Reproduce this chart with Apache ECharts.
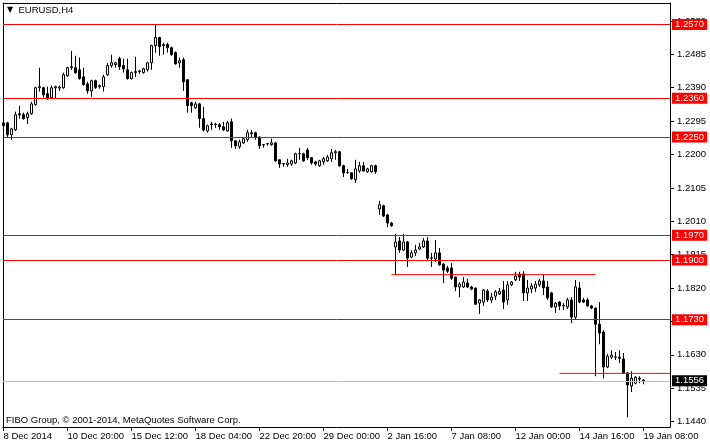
<!DOCTYPE html>
<html><head><meta charset="utf-8">
<script src="https://cdn.jsdelivr.net/npm/echarts@6/dist/echarts.min.js"></script>
<style>html,body{margin:0;padding:0;background:#fff}#c{width:710px;height:445px}</style>
</head><body><div id="c"></div>
<script>
// EURUSD H4 candles, one entry per bar (bar index = position in array)
const opens = [1.2290,1.2290,1.2256,1.2270,1.2316,1.2313,1.2305,1.2316,1.2342,1.2390,
1.2390,1.2373,1.2362,1.2390,1.2389,1.2390,1.2424,1.2447,1.2447,1.2441,
1.2421,1.2401,1.2381,1.2410,1.2393,1.2393,1.2427,1.2453,1.2456,1.2473,
1.2453,1.2441,1.2416,1.2433,1.2436,1.2433,1.2441,1.2461,1.2510,1.2533,
1.2510,1.2513,1.2504,1.2490,1.2461,1.2470,1.2413,1.2347,1.2333,1.2344,
1.2302,1.2267,1.2285,1.2285,1.2285,1.2279,1.2267,1.2293,1.2239,1.2222,
1.2233,1.2242,1.2259,1.2262,1.2250,1.2228,1.2230,1.2228,1.2233,1.2185,
1.2173,1.2171,1.2173,1.2176,1.2202,1.2202,1.2213,1.2191,1.2179,1.2168,
1.2179,1.2182,1.2188,1.2205,1.2208,1.2168,1.2148,1.2148,1.2128,1.2153,
1.2168,1.2151,1.2151,1.2168,1.2045,1.2054,1.2028,1.2005,1.1937,1.1954,
1.1928,1.1951,1.1908,1.1920,1.1931,1.1937,1.1954,1.1905,1.1903,1.1920,
1.1888,1.1877,1.1877,1.1851,1.1823,1.1823,1.1834,1.1823,1.1820,1.1777,
1.1780,1.1811,1.1786,1.1797,1.1803,1.1814,1.1786,1.1829,1.1843,1.1860,
1.1860,1.1806,1.1817,1.1820,1.1829,1.1840,1.1823,1.1806,1.1766,1.1780,
1.1769,1.1766,1.1786,1.1737,1.1820,1.1786,1.1786,1.1769,1.1763,1.1717,
1.1695,1.1595,1.1623,1.1623,1.1623,1.1618,1.1578,1.1541,1.1549,1.1563,
1.1558];
const closes = [1.2282,1.2256,1.2273,1.2313,1.2313,1.2302,1.2316,1.2344,1.2390,1.2393,
1.2370,1.2359,1.2390,1.2393,1.2392,1.2427,1.2447,1.2450,1.2433,1.2416,
1.2399,1.2381,1.2410,1.2390,1.2396,1.2421,1.2453,1.2461,1.2461,1.2450,
1.2444,1.2416,1.2433,1.2436,1.2438,1.2444,1.2461,1.2510,1.2533,1.2507,
1.2513,1.2504,1.2484,1.2458,1.2467,1.2407,1.2339,1.2339,1.2344,1.2302,
1.2270,1.2282,1.2287,1.2286,1.2279,1.2270,1.2290,1.2239,1.2225,1.2236,
1.2245,1.2262,1.2262,1.2250,1.2225,1.2227,1.2231,1.2233,1.2182,1.2173,
1.2174,1.2176,1.2182,1.2202,1.2203,1.2182,1.2191,1.2176,1.2173,1.2182,
1.2188,1.2193,1.2205,1.2208,1.2168,1.2148,1.2149,1.2131,1.2159,1.2168,
1.2153,1.2159,1.2168,1.2151,1.2057,1.2025,1.2005,1.1997,1.1951,1.1928,
1.1951,1.1905,1.1920,1.1928,1.1937,1.1954,1.1905,1.1906,1.1920,1.1886,
1.1871,1.1868,1.1848,1.1823,1.1831,1.1837,1.1823,1.1817,1.1774,1.1786,
1.1814,1.1786,1.1794,1.1809,1.1811,1.1780,1.1829,1.1837,1.1854,1.1851,
1.1806,1.1820,1.1826,1.1831,1.1840,1.1820,1.1792,1.1766,1.1777,1.1769,
1.1770,1.1786,1.1737,1.1823,1.1780,1.1780,1.1769,1.1763,1.1717,1.1692,
1.1595,1.1626,1.1629,1.1624,1.1620,1.1578,1.1544,1.1563,1.1566,1.1561,
1.1556];
const lows = [1.2276,1.2248,1.2242,1.2267,1.2302,1.2299,1.2287,1.2313,1.2339,1.2379,
1.2362,1.2356,1.2359,1.2359,1.2381,1.2387,1.2421,1.2441,1.2430,1.2413,
1.2396,1.2373,1.2364,1.2387,1.2387,1.2379,1.2424,1.2447,1.2447,1.2441,
1.2433,1.2413,1.2413,1.2421,1.2430,1.2430,1.2436,1.2441,1.2490,1.2481,
1.2484,1.2490,1.2481,1.2456,1.2447,1.2381,1.2319,1.2319,1.2330,1.2276,
1.2265,1.2262,1.2270,1.2276,1.2270,1.2267,1.2265,1.2219,1.2216,1.2216,
1.2230,1.2236,1.2248,1.2242,1.2216,1.2219,1.2225,1.2225,1.2179,1.2162,
1.2165,1.2165,1.2168,1.2173,1.2185,1.2179,1.2185,1.2171,1.2168,1.2165,
1.2171,1.2179,1.2179,1.2185,1.2165,1.2136,1.2145,1.2128,1.2119,1.2148,
1.2151,1.2148,1.2148,1.2145,1.2028,1.2022,1.1994,1.1994,1.1857,1.1920,
1.1925,1.1880,1.1905,1.1911,1.1928,1.1934,1.1900,1.1880,1.1894,1.1883,
1.1834,1.1863,1.1843,1.1811,1.1794,1.1820,1.1820,1.1814,1.1772,1.1746,
1.1769,1.1780,1.1777,1.1786,1.1800,1.1760,1.1772,1.1826,1.1840,1.1840,
1.1783,1.1783,1.1806,1.1809,1.1823,1.1800,1.1786,1.1763,1.1749,1.1757,
1.1757,1.1760,1.1720,1.1729,1.1777,1.1777,1.1766,1.1760,1.1569,1.1660,
1.1563,1.1592,1.1618,1.1615,1.1606,1.1575,1.1452,1.1524,1.1546,1.1549,
1.1546];
const highs = [1.2296,1.2293,1.2276,1.2322,1.2339,1.2319,1.2322,1.2350,1.2393,1.2447,
1.2393,1.2393,1.2396,1.2396,1.2396,1.2433,1.2450,1.2495,1.2481,1.2476,
1.2447,1.2407,1.2413,1.2413,1.2399,1.2427,1.2461,1.2484,1.2464,1.2478,
1.2473,1.2473,1.2436,1.2478,1.2441,1.2447,1.2464,1.2513,1.2570,1.2535,
1.2518,1.2518,1.2507,1.2493,1.2476,1.2476,1.2413,1.2350,1.2350,1.2347,
1.2336,1.2285,1.2293,1.2290,1.2290,1.2293,1.2296,1.2302,1.2240,1.2242,
1.2250,1.2270,1.2270,1.2265,1.2251,1.2230,1.2233,1.2245,1.2236,1.2186,
1.2176,1.2188,1.2185,1.2205,1.2219,1.2205,1.2219,1.2193,1.2182,1.2185,
1.2193,1.2199,1.2216,1.2213,1.2210,1.2171,1.2159,1.2149,1.2185,1.2179,
1.2179,1.2162,1.2171,1.2171,1.2068,1.2057,1.2031,1.2008,1.1974,1.1965,
1.1974,1.1954,1.1928,1.1943,1.1948,1.1962,1.1965,1.1920,1.1957,1.1934,
1.1891,1.1883,1.1891,1.1852,1.1837,1.1851,1.1846,1.1826,1.1821,1.1789,
1.1817,1.1817,1.1806,1.1814,1.1820,1.1840,1.1840,1.1840,1.1866,1.1866,
1.1868,1.1843,1.1834,1.1840,1.1846,1.1857,1.1840,1.1809,1.1780,1.1783,
1.1777,1.1792,1.1794,1.1843,1.1837,1.1792,1.1792,1.1772,1.1764,1.1780,
1.1700,1.1632,1.1643,1.1638,1.1643,1.1635,1.1581,1.1583,1.1569,1.1569,
1.1561];

// time axis labels (bar index where each label sits)
const tickBars = [0,16,32,48,64,80,96,112,128,144,160];
const tickLabels = ['8 Dec 2014','10 Dec 20:00','15 Dec 12:00','18 Dec 04:00','22 Dec 20:00',
  '29 Dec 00:00','2 Jan 16:00','7 Jan 08:00','12 Jan 00:00','14 Jan 16:00','19 Jan 08:00'];
// price scale tick labels
const priceTicks = [1.1440,1.1535,1.1630,1.1725,1.1820,1.1915,1.2010,1.2105,1.2200,1.2295,1.2390,1.2485,1.2580];
// horizontal levels
const levels = [1.2570,1.2360,1.2250,1.1970,1.1900,1.1730];
const bidPrice = 1.1556;
const segPrices = [1.1858, 1.1577];
const segFromBar = [97, 139];
const segToBar = [148, null];

const FONT = '"Liberation Sans", Arial, sans-serif';
const X_MIN = -0.125, X_MAX = 166.625;
const Y_MIN = 1.14244, Y_MAX = 1.26312;

const candles = opens.map((o, i) => [i, o, closes[i], lows[i], highs[i]]);

const lvlLabel = (bg) => ({show: true, position: 'end', distance: 2, color: '#fff', backgroundColor: bg,
  padding: [1, 3, 0, 3], fontSize: 9.5, lineHeight: 10, fontFamily: FONT});

const mlData = levels.map(v => ({yAxis: v, label: Object.assign(lvlLabel('#ff0000'), {formatter: v.toFixed(4)})}));
mlData.push({yAxis: bidPrice, lineStyle: {color: '#c0c0c0', width: 1, type: 'solid'},
  label: Object.assign(lvlLabel('#000000'), {formatter: bidPrice.toFixed(4)})});

const segSeries = segPrices.map((p, k) => ({
  type: 'line', silent: true, showSymbol: false, symbol: 'none', animation: false, z: 3,
  data: [[segFromBar[k], p], [segToBar[k] == null ? X_MAX : segToBar[k], p]],
  lineStyle: {color: '#ff0000', width: 1, type: 'solid'},
  emphasis: {disabled: true}
}));

const chart = echarts.init(document.getElementById('c'), null, {renderer: 'canvas'});
chart.setOption({
  animation: false,
  backgroundColor: '#ffffff',
  title: [
    {text: '{a|▼}  EURUSD,H4', left: 7, top: 5, padding: 0,
     textStyle: {fontSize: 9.5, fontWeight: 'normal', fontFamily: FONT, color: '#000',
       rich: {a: {fontSize: 8, color: '#000', fontFamily: '"DejaVu Sans", sans-serif'}}}},
    {text: 'FIBO Group, © 2001-2014, MetaQuotes Software Corp.', left: 6, top: 415, padding: 0,
     textStyle: {fontSize: 9.5, fontWeight: 'normal', fontFamily: FONT, color: '#000'}}
  ],
  grid: {left: 3, top: 3, right: 40, bottom: 18, containLabel: false},
  xAxis: [
    {type: 'value', min: X_MIN, max: X_MAX, position: 'bottom',
     axisLine: {show: true, onZero: false, lineStyle: {color: '#000', width: 1}},
     axisTick: {show: true, customValues: tickBars, length: 4, lineStyle: {color: '#000'}},
     axisLabel: {show: true, customValues: tickBars, align: 'left', margin: 4, color: '#000',
       fontSize: 9.5, fontFamily: FONT,
       formatter: v => { const k = tickBars.indexOf(Math.round(v)); return k >= 0 ? tickLabels[k] : ''; }},
     splitLine: {show: false}},
    {type: 'value', min: X_MIN, max: X_MAX, position: 'top',
     axisLine: {show: true, onZero: false, lineStyle: {color: '#000', width: 1}},
     axisTick: {show: false}, axisLabel: {show: false}, splitLine: {show: false}}
  ],
  yAxis: [
    {type: 'value', min: Y_MIN, max: Y_MAX, position: 'right', scale: true,
     axisLine: {show: true, onZero: false, lineStyle: {color: '#000', width: 1}},
     axisTick: {show: true, customValues: priceTicks, length: 4, lineStyle: {color: '#000'}},
     axisLabel: {show: true, customValues: priceTicks, margin: 7, color: '#000', fontSize: 9.5,
       fontFamily: FONT, formatter: v => v.toFixed(4)},
     splitLine: {show: false}},
    {type: 'value', min: Y_MIN, max: Y_MAX, position: 'left', scale: true,
     axisLine: {show: true, onZero: false, lineStyle: {color: '#000', width: 1}},
     axisTick: {show: false}, axisLabel: {show: false}, splitLine: {show: false}}
  ],
  series: [{
    type: 'candlestick',
    xAxisIndex: 0, yAxisIndex: 0,
    data: candles,
    barWidth: 2,
    silent: true,
    itemStyle: {color: '#ffffff', color0: '#000000', borderColor: '#000000', borderColor0: '#000000',
      borderColorDoji: '#000000', borderWidth: 1},
    emphasis: {disabled: true},
    markLine: {
      silent: true, symbol: ['none', 'none'], animation: false, precision: 4,
      lineStyle: {color: '#ff0000', width: 1, type: 'solid'},
      emphasis: {disabled: true},
      data: mlData
    }
  }].concat(segSeries)
});
</script></body></html>
